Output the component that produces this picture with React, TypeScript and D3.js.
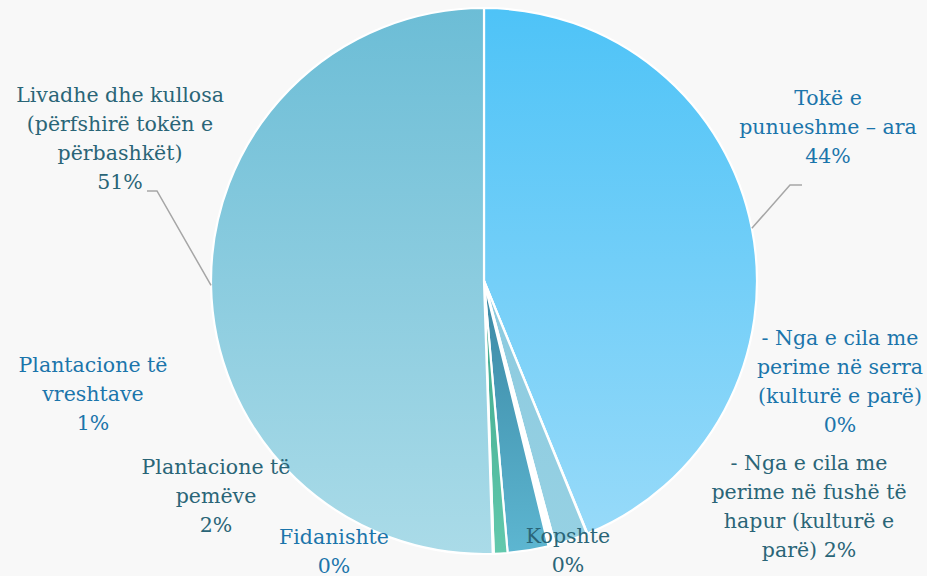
import React from "react";
import * as d3 from "d3";

// ---- data ----
const categories: string[] = [
  "Tokë e punueshme – ara",
  "- Nga e cila me perime në serra (kulturë e parë)",
  "- Nga e cila me perime në fushë të hapur (kulturë e parë)",
  "Kopshte",
  "Plantacione të pemëve",
  "Plantacione të vreshtave",
  "Fidanishte",
  "Livadhe dhe kullosa (përfshirë tokën e përbashkët)",
];
const values: number[] = [43.83, 0.03, 1.97, 0.39, 2.42, 0.81, 0.06, 50.53];
const labelLines: string[][] = [
  ["Tokë e", "punueshme – ara"],
  ["- Nga e cila me", "perime në serra", "(kulturë e parë)"],
  ["- Nga e cila me", "perime në fushë të", "hapur (kulturë e"],
  ["Kopshte"],
  ["Plantacione të", "pemëve"],
  ["Plantacione të", "vreshtave"],
  ["Fidanishte"],
  ["Livadhe dhe kullosa", "(përfshirë tokën e", "përbashkët)"],
];
// whether the percentage is appended to a trailing word instead of a new line
const pctInline: boolean[] = [false, false, true, false, false, false, false, false];

// ---- styles / layout ----
const W = 927;
const H = 576;
const CX = 484;
const CY = 281;
const R = 273;
const FONT = "DejaVu Serif";
const gradTop = ["#4ec3f7", "#7fd0f7", "#8ccadf", "#ffffff", "#3a87a3", "#3aa588", "#7fd0f7", "#6cbdd6"];
const gradBottom = ["#97daf9", "#97daf9", "#96d1e3", "#ffffff", "#5db6d1", "#63c9ad", "#97daf9", "#aadbe8"];
const labelColor = ["#1b75ab", "#1b75ab", "#2a6577", "#2a6577", "#2a6577", "#1b75ab", "#1b75ab", "#2a6577"];
const labelPos: [number, number][] = [
  [828, 105],
  [840, 345],
  [809, 470],
  [568, 543],
  [216, 474],
  [93, 372],
  [334, 544],
  [120, 102],
];
const LINE = 29;
const leaders: { i: number; elbow: [number, number]; end: [number, number] }[] = [
  { i: 0, elbow: [790, 185], end: [802, 185] },
  { i: 7, elbow: [157, 191], end: [147, 191] },
];

export default function App() {
  const total = d3.sum(values);
  const pie = d3.pie<number>().sort(null).value((d) => d)(values);
  const arc = d3.arc<d3.PieArcDatum<number>>().innerRadius(0).outerRadius(R);

  return (
    <svg
      width={W}
      height={H}
      style={{ position: "absolute", left: 0, top: 0, background: "#f8f8f8" }}
    >
      <defs>
        {values.map((_, i) => (
          <linearGradient key={i} id={`g${i}`} x1="0" y1="0" x2="0" y2="1">
            <stop offset="0" stopColor={gradTop[i]} />
            <stop offset="1" stopColor={gradBottom[i]} />
          </linearGradient>
        ))}
      </defs>
      <rect width={W} height={H} fill="#f8f8f8" />
      <g transform={`translate(${CX},${CY})`}>
        {pie.map((p, i) => (
          <path key={i} d={arc(p) || ""} fill={`url(#g${i})`} stroke="#ffffff" strokeWidth={2.2} strokeLinejoin="round" />
        ))}
      </g>
      {leaders.map((l, k) => {
        const p = pie[l.i];
        const a = (p.startAngle + p.endAngle) / 2;
        const sx = CX + R * Math.sin(a);
        const sy = CY - R * Math.cos(a);
        return (
          <polyline
            key={k}
            points={`${sx},${sy} ${l.elbow[0]},${l.elbow[1]} ${l.end[0]},${l.end[1]}`}
            fill="none"
            stroke="#a6a6a6"
            strokeWidth={1.5}
          />
        );
      })}
      {labelLines.map((lines, i) => {
        const pct = `${Math.round((values[i] / total) * 100)}%`;
        const all = pctInline[i] ? [...lines, `parë) ${pct}`] : [...lines, pct];
        return (
          <text
            key={i}
            textAnchor="middle"
            style={{ fontFamily: `"${FONT}", serif`, fontSize: "20.5px" }}
            fill={labelColor[i]}
          >
            {all.map((t, j) => (
              <tspan key={j} x={labelPos[i][0]} y={labelPos[i][1] + j * LINE}>
                {t}
              </tspan>
            ))}
          </text>
        );
      })}
    </svg>
  );
}
